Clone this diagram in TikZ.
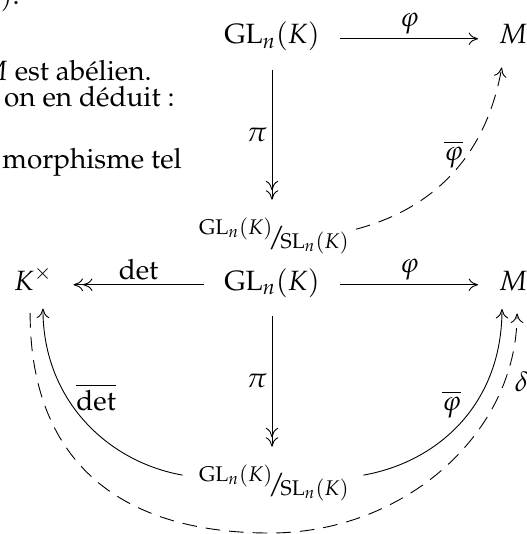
\documentclass[tikz,border=0pt]{standalone}
\usepackage[T1]{fontenc}
\usepackage{amsmath}
\usepackage{mathpazo}
\usetikzlibrary{arrows.meta}
\tikzset{
  obj/.style={inner xsep=9pt, inner ysep=8pt, anchor=base},
  lbl/.style={inner sep=2pt},
  map/.style={-{To[length=4.2pt, width=5.6pt]}},
  epi/.style={-{To[length=4.2pt, width=5.6pt] To[length=4.2pt, width=5.6pt]}},
  dmap/.style={map, dash pattern=on 6.5pt off 4pt},
}
\newcommand{\GLn}{\mathrm{GL}_n(K)}
\newcommand{\SLn}{\mathrm{SL}_n(K)}
\newcommand{\quotGS}{\raisebox{5pt}{$\scriptstyle\GLn$}\!/\!\raisebox{-1pt}{$\scriptstyle\SLn$}}

\begin{document}
\begin{tikzpicture}[x=0.01563cm, y=0.01563cm, font=\fontsize{12.4}{15}\selectfont]
  \useasboundingbox (0,0) rectangle (526,-534);
  % texte coupe a gauche
  \node[anchor=base east, inner sep=0pt] (t0) at (20,-5) {$(K)$.};
  \node[anchor=base east, inner sep=0pt] (t1) at (152,-81) {$M$ est ab\'elien.};
  \node[anchor=base east, inner sep=0pt] (t2) at (175,-107) {on en d\'eduit :};
  \node[anchor=base west, inner sep=0pt] (t3) at (2,-168) {morphisme tel};

  % premier diagramme
  \node[obj] (gla) at (272,-44) {$\GLn$};
  \node[obj] (Ma) at (513,-44) {$M$};
  \node[obj] (qa) at (274,-246) {$\quotGS$};
  \draw[map] (gla.mid east) -- (Ma.mid west)
    node[lbl, midway, above] {$\varphi$};
  \draw[epi] (gla.south) -- (gla.south |- qa.north)
    node[lbl, midway, left] {$\pi$};
  \draw[dmap] ([xshift=-6pt, yshift=3pt]qa.east) to[out=15, in=-100]
    node[lbl, pos=0.6, left] {$\overline{\varphi}$} ([xshift=-5pt, yshift=-2pt]Ma.south);

  % second diagramme
  \node[obj] (Kx) at (33.5,-290) {$K^\times$};
  \node[obj] (glb) at (272,-290) {$\GLn$};
  \node[obj] (Mb) at (513,-290) {$M$};
  \node[obj] (qb) at (274,-493) {$\quotGS$};
  \coordinate (dlow) at (270,-533);
  \draw[epi] (glb.mid west) -- (Kx.mid east)
    node[lbl, midway, above] {$\det$};
  \draw[map] (glb.mid east) -- (Mb.mid west)
    node[lbl, midway, above] {$\varphi$};
  \draw[epi] (glb.south) -- (glb.south |- qb.north)
    node[lbl, midway, left] {$\pi$};
  \draw[map] ([xshift=1.8pt, yshift=3.5pt]qb.west)
    to[out=170, in=-90, out distance=33.5pt, in distance=41pt]
    node[lbl, pos=0.63, right=2pt] {$\overline{\det}$} ([xshift=4.2pt]Kx.south);
  \draw[map] ([xshift=-2.7pt, yshift=3.5pt]qb.east)
    to[out=10, in=-90, out distance=34pt, in distance=42pt]
    node[lbl, pos=0.6, left=4pt] {$\overline{\varphi}$} ([xshift=-4.9pt]Mb.south);
  \draw[dmap] ([xshift=-1.5pt, yshift=-2pt]Kx.south)
    to[out=-90, in=180, out distance=64pt, in distance=69pt] (dlow)
    to[out=0, in=-90, out distance=60pt, in distance=53pt]
    node[lbl, pos=0.8, right=2.5pt] {$\delta$} ([xshift=1.8pt, yshift=-2pt]Mb.south);
\end{tikzpicture}
\end{document}
